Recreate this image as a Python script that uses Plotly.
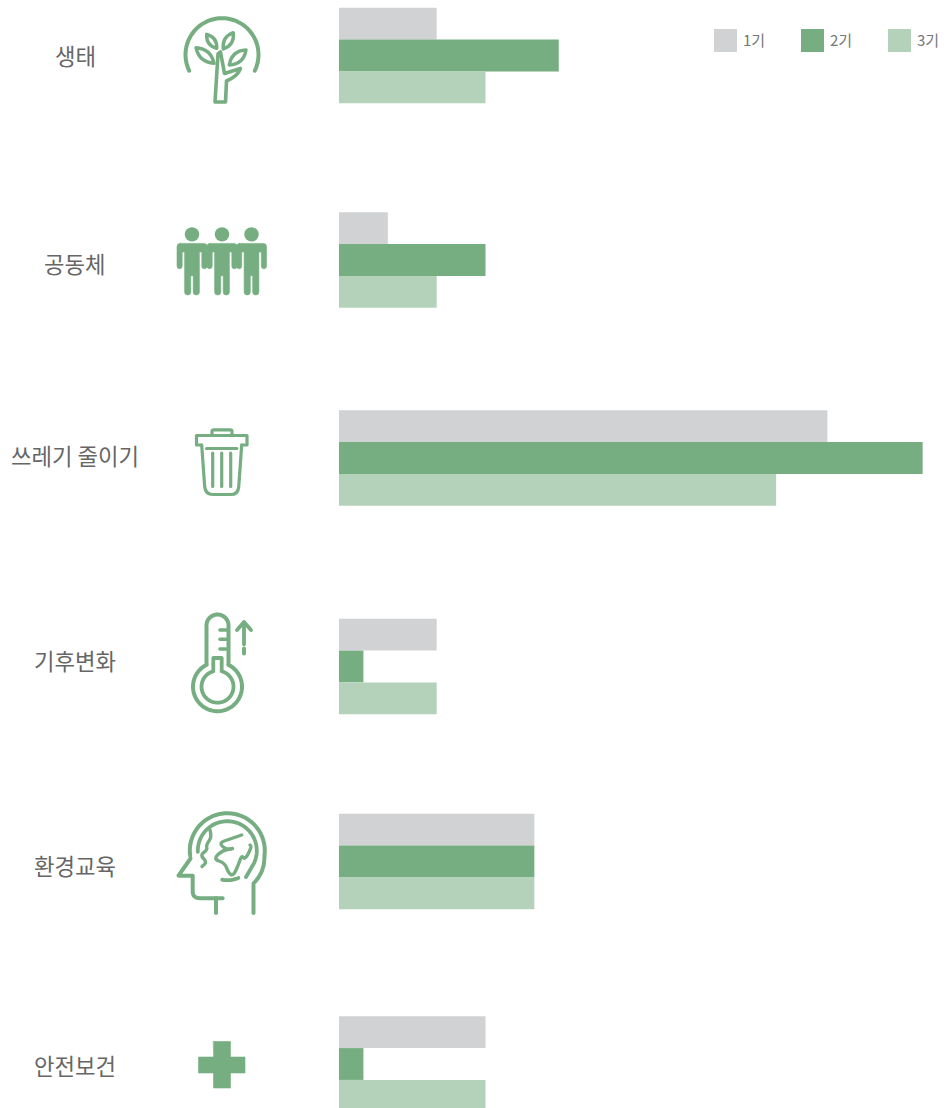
import math
import plotly.graph_objects as go

# ---------- data ----------
categories = ["생태", "공동체", "쓰레기 줄이기", "기후변화", "환경교육", "안전보건"]
series_names = ["1기", "2기", "3기"]
values_1 = [4, 2, 20, 4, 8, 6]
values_2 = [9, 6, 23.9, 1, 8, 1]
values_3 = [6, 4, 17.9, 4, 8, 6]

# ---------- layout constants (page pixels) ----------
W, H = 944, 1108
group_y = [55.5, 260, 458, 666.5, 861.5, 1064]
label_y = [55, 263, 455, 660, 865, 1065]
colors = ["#d1d2d4", "#76ae82", "#b4d2ba"]
X0, PX_PER_UNIT = 339, 24.42
TEXT = "#666666"
FONT = "Noto Sans CJK KR"
G = colors[1]

fig = go.Figure()
for name, vals, col in zip(series_names, [values_1, values_2, values_3], colors):
    fig.add_trace(go.Bar(x=vals, y=group_y, name=name, orientation="h",
                         marker=dict(color=col, line=dict(width=0)),
                         hoverinfo="x+name"))

shapes, annotations = [], []


def stroke(path, w=4):
    shapes.append(dict(type="path", xref="x2", yref="y", path=path, layer="above",
                       line=dict(color=G, width=w), fillcolor="rgba(0,0,0,0)"))


def fill(path):
    shapes.append(dict(type="path", xref="x2", yref="y", path=path, layer="above",
                       line=dict(color=G, width=0.6), fillcolor=G))


def arc(cx, cy, r, a0, a1, start="M"):
    n = max(4, int(abs(a1 - a0) / 5))
    pts = []
    for i in range(n + 1):
        a = math.radians(a0 + (a1 - a0) * i / n)
        pts.append(f"{cx + r * math.cos(a):.2f},{cy + r * math.sin(a):.2f}")
    return f"{start}{pts[0]} " + " ".join("L" + p for p in pts[1:])


def smooth(pts):
    d = f"M{pts[0][0]},{pts[0][1]} "
    for i in range(1, len(pts) - 1):
        mx = (pts[i][0] + pts[i + 1][0]) / 2
        my = (pts[i][1] + pts[i + 1][1]) / 2
        d += f"Q{pts[i][0]},{pts[i][1]} {mx},{my} "
    d += f"L{pts[-1][0]},{pts[-1][1]}"
    return d


def leaf(x0, y0, x1, y1, bulge):
    mx, my = (x0 + x1) / 2, (y0 + y1) / 2
    dx, dy = x1 - x0, y1 - y0
    L = math.hypot(dx, dy)
    nx, ny = -dy / L * bulge, dx / L * bulge
    return (f"M{x0},{y0} Q{mx + nx:.1f},{my + ny:.1f} {x1},{y1} "
            f"Q{mx - nx:.1f},{my - ny:.1f} {x0},{y0} Z")


# tree
stroke(arc(222, 54.7, 36.5, 154, 386), 4)
for a in [(196, 47.7, 214, 63.3, 9), (206.7, 34.3, 216.7, 48.3, 7),
          (233.3, 32.7, 223.3, 49, 7.5), (246, 50, 229.3, 65, 9)]:
    stroke(leaf(*a), 3.4)
stroke("M215,102 L218,54 L220.5,52 L224.5,73.5 L240.5,68.5 Q238,76 226.5,81 L225.5,102 Z", 3.6)

# people
for cx in (192, 222, 251.5):
    shapes.append(dict(type="circle", xref="x2", yref="y", layer="above",
                       x0=cx - 7.2, x1=cx + 7.2, y0=227.2, y1=241.6,
                       fillcolor=G, line=dict(width=0)))
    def X(d):
        return f"{cx + d:.1f}"
    fill(f"M{X(-12)},243.4 L{X(12)},243.4 Q{X(15)},243.4 {X(15)},246.5 L{X(15)},266 "
         f"Q{X(15)},268.8 {X(12.4)},268.8 Q{X(9.8)},268.8 {X(9.8)},266 L{X(9.8)},252 "
         f"L{X(7.4)},252 L{X(7.4)},292 Q{X(7.4)},295 {X(4.3)},295 Q{X(1.2)},295 {X(1.2)},292 "
         f"L{X(1.2)},275.7 L{X(-1.2)},275.7 L{X(-1.2)},292 Q{X(-1.2)},295 {X(-4.3)},295 "
         f"Q{X(-7.4)},295 {X(-7.4)},292 L{X(-7.4)},252 L{X(-9.8)},252 L{X(-9.8)},266 "
         f"Q{X(-9.8)},268.8 {X(-12.4)},268.8 Q{X(-15)},268.8 {X(-15)},266 L{X(-15)},246.5 "
         f"Q{X(-15)},243.4 {X(-12)},243.4 Z")

# bin
stroke("M201.7,445 L196.5,445 L196.5,435.5 L247,435.5 L247,445 L241.7,445", 3.2)
stroke("M212,435 L212,431.5 Q212,429.8 214,429.8 L230,429.8 Q232,429.8 232,431.5 L232,435", 3.2)
stroke("M201.7,445 L204.7,487 Q205.5,494.5 213,494.5 L231,494.5 Q238,494.5 238.7,487 L241.7,445", 3.2)
stroke("M206.5,448.5 L236.8,448.5", 3.2)
for x in (212.7, 221.7, 230.7):
    stroke(f"M{x},453 L{x},486.5", 3.2)

# thermometer
stroke("M206.5,664.3 L206.5,625.5 " + arc(217.5, 625.5, 11, 180, 360, "L")
       + " L228.5,664.3 " + arc(217.5, 686.7, 24.5, -64, 244, "L"), 4)
stroke("M213.3,671.3 L213.3,658 L221.7,658 L221.7,671.3 " + arc(217.5, 686.7, 16, -75, 255, "L"), 3.8)
for y in (630, 639.3, 649):
    stroke(f"M220,{y} L226.5,{y}", 3.6)
stroke("M244,622.5 L244,644.3", 3.8)
stroke("M244,648.5 L244,653.5", 4)
stroke("M237,630 L244,622 L251,630", 3.8)

# head and globe
stroke(arc(227.3, 850.7, 37.5, 190, 368) + " Q265,872 253.5,883.5 L253.5,913", 4)
stroke("M190.5,858.5 L178.5,875.7 L192.7,875.7 L192.7,892 Q193,898.3 200,898.3 L222.7,898.3", 4)
stroke("M216,898.3 L216,913", 4)
stroke(arc(227.3, 850.7, 37.5, 172, 190), 4)
stroke(arc(227.3, 850.7, 29.5, 178, 385) + " L246,877", 3.8)
stroke(arc(227.3, 850.7, 29.5, 68, 100), 3.8)
stroke(smooth([(210, 830), (212, 837), (206, 845), (207.5, 850), (200, 855),
               (207, 862), (202, 866.5)]), 3.4)
stroke(smooth([(241.7, 835), (230, 839), (218.5, 843), (226.7, 850), (235, 848), (223, 850),
               (213, 859), (225, 863), (228.3, 873), (233.3, 876), (238.3, 865), (241.7, 855),
               (245, 860), (251.7, 847), (250, 845)]), 3.4)

# plus
fill("M213.5,1041.5 L230.5,1041.5 L230.5,1057 L245,1057 L245,1073 L230.5,1073 "
     "L230.5,1088 L213.5,1088 L213.5,1073 L198.5,1073 L198.5,1057 L213.5,1057 Z")

# category labels
for cat, y in zip(categories, label_y):
    annotations.append(dict(x=75, y=y, xref="x2", yref="y", text=cat, showarrow=False,
                            xanchor="center", yanchor="middle",
                            font=dict(family=FONT, size=22.3, color=TEXT)))

# legend
for name, col, x in zip(series_names, colors, [714, 801, 888]):
    shapes.append(dict(type="rect", xref="x2", yref="y", x0=x, x1=x + 23, y0=29, y1=52,
                       fillcolor=col, line=dict(width=0), layer="above"))
    annotations.append(dict(x=x + 27, y=39, xref="x2", yref="y", text=name, showarrow=False,
                            xanchor="left", yanchor="middle",
                            font=dict(family=FONT, size=15, color="#777777")))

fig.update_layout(
    width=W, height=H, margin=dict(l=0, r=0, t=0, b=0, pad=0),
    paper_bgcolor="white", plot_bgcolor="white",
    barmode="group", bargap=0.5103, bargroupgap=0, showlegend=False,
    font=dict(family=FONT),
    xaxis=dict(range=[-X0 / PX_PER_UNIT, (W - X0) / PX_PER_UNIT], visible=False, fixedrange=True),
    xaxis2=dict(range=[0, W], overlaying="x", visible=False, fixedrange=True),
    yaxis=dict(range=[H, 0], visible=False, fixedrange=True),
    shapes=shapes, annotations=annotations,
)

css = ("document.body.style.margin='0';"
       "var s=document.createElement('style');"
       "s.textContent='.shapelayer path{stroke-linecap:round;stroke-linejoin:round}';"
       "document.head.appendChild(s);")
fig.write_html("out.html", post_script=css, config={"displayModeBar": False})
